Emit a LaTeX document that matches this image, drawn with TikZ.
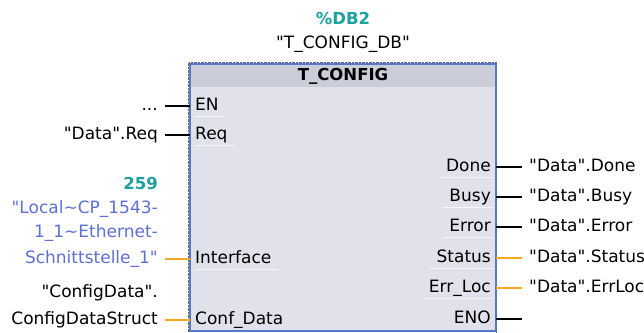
\documentclass[tikz,border=0pt]{standalone}
\usepackage{fontspec}
\setmainfont{DejaVu Sans}
\usetikzlibrary{positioning,calc}
\definecolor{blockfill}{RGB}{224,225,234}
\definecolor{headfill}{RGB}{203,205,217}
\definecolor{blockedge}{RGB}{86,120,200}
\definecolor{dbteal}{RGB}{28,160,160}
\definecolor{tagblue}{RGB}{92,112,214}
\definecolor{wireorange}{RGB}{245,166,35}
\newcommand{\qq}{\textquotedbl}

\begin{document}
\begin{tikzpicture}[x=1pt, y=-1pt, font=\fontsize{17}{20}\selectfont,
    block/.style = {draw=blockedge, line width=1.4pt, fill=blockfill,
      minimum width=305pt, minimum height=266pt, inner sep=0pt},
    head/.style = {fill=headfill, minimum width=303.6pt, minimum height=23pt,
      inner sep=0pt, font=\fontsize{16.5}{19}\selectfont\bfseries},
    pinname/.style = {inner sep=0pt, text height=12.5pt, text depth=4pt},
    tag/.style = {inner xsep=7pt, inner ysep=0pt, text height=12.5pt,
      text depth=4pt},
    dbname/.style = {text=dbteal, font=\fontsize{16.5}{19}\selectfont\bfseries},
    wire/.style = {line width=2.2pt},
    owire/.style = {wire, wireorange},
    gloss/.style = {white, line width=1pt, opacity=.75}]
  \useasboundingbox (0,0) rectangle (644,332);

  % instance data block
  \node[dbname] (dbnum) at (343,18) {\%DB2};
  \node (dbtag) at (343,44) {\qq T\_CONFIG\_DB\qq};

  % function block body and title bar
  \draw[densely dotted, gray!80!black] (188.5,62.5) rectangle (496.5,334);
  \node[block, anchor=north west] (blk) at (190,64) {};
  \node[head, anchor=north west] (head) at ($(blk.north west)+(.7,-.7)$)
    {\phantom{g}};
  \node[head, fill=none] (title) at (343,76) {T\_CONFIG};
  \draw[blockedge, line width=1.4pt] (blk.north west) rectangle (blk.south east);

  % inputs
  \node[pinname, anchor=west] (pEN) at (195,106) {EN};
  \node[pinname, anchor=west] (pReq) at (195,135) {Req};
  \node[pinname, anchor=west] (pIntf) at (195,259) {Interface};
  \node[pinname, anchor=west] (pConf) at (195,320) {Conf\_Data};

  \node[tag, anchor=east] (tEN) at (165,106) {...};
  \node[tag, anchor=east] (tReq) at (165,135) {\qq Data\qq.Req};
  \node[tag, anchor=east, text=dbteal, font=\fontsize{16.5}{19}\selectfont\bfseries]
    (tHwId) at (165,185) {259};
  \node[tag, anchor=east, text=tagblue] (tIntfA) at (165,209)
    {\qq Local\textasciitilde CP\_1543-};
  \node[tag, anchor=east, text=tagblue] (tIntfB) at (165,233)
    {1\_1\textasciitilde Ethernet-};
  \node[tag, anchor=east, text=tagblue] (tIntf) at (165,259)
    {Schnittstelle\_1\qq};
  \node[tag, anchor=east] (tConfA) at (165,293) {\qq ConfigData\qq.};
  \node[tag, anchor=east] (tConf) at (165,320) {ConfigDataStruct};

  \draw[wire] (tEN.east) -- (pEN.west -| blk.west);
  \draw[wire] (tReq.east) -- (pReq.west -| blk.west);
  \draw[owire] (tIntf.east) -- (pIntf.west -| blk.west);
  \draw[owire] (tConf.east) -- (pConf.west -| blk.west);

  % outputs
  \node[pinname, anchor=east] (pDone) at (491,167) {Done};
  \node[pinname, anchor=east] (pBusy) at (491,197) {Busy};
  \node[pinname, anchor=east] (pErr) at (491,227) {Error};
  \node[pinname, anchor=east] (pStat) at (491,258) {Status};
  \node[pinname, anchor=east] (pLoc) at (491,288) {Err\_Loc};
  \node[pinname, anchor=east] (pENO) at (491,319) {ENO};

  \node[tag, anchor=west] (tDone) at (522,167) {\qq Data\qq.Done};
  \node[tag, anchor=west] (tBusy) at (522,197) {\qq Data\qq.Busy};
  \node[tag, anchor=west] (tErr) at (522,227) {\qq Data\qq.Error};
  \node[tag, anchor=west] (tStat) at (522,258) {\qq Data\qq.Status};
  \node[tag, anchor=west] (tLoc) at (522,288) {\qq Data\qq.ErrLoc};
  \coordinate (tENO) at (522,319);

  \draw[wire] (pDone.east -| blk.east) -- (tDone.west);
  \draw[wire] (pBusy.east -| blk.east) -- (tBusy.west);
  \draw[wire] (pErr.east -| blk.east) -- (tErr.west);
  \draw[owire] (pStat.east -| blk.east) -- (tStat.west);
  \draw[owire] (pLoc.east -| blk.east) -- (tLoc.west);
  \draw[wire] (pENO.east -| blk.east) -- (tENO);

  % highlight strokes under the pin names
  \foreach \p in {pEN, pReq, pIntf}
    \draw[gloss] ($(\p.south west)+(0,2)$) -- ($(\p.south east)+(6,2)$);
  \foreach \p in {pDone, pBusy, pErr, pStat, pLoc}
    \draw[gloss] ($(\p.south west)+(-6,2)$) -- ($(\p.south east)+(2,2)$);
\end{tikzpicture}
\end{document}
